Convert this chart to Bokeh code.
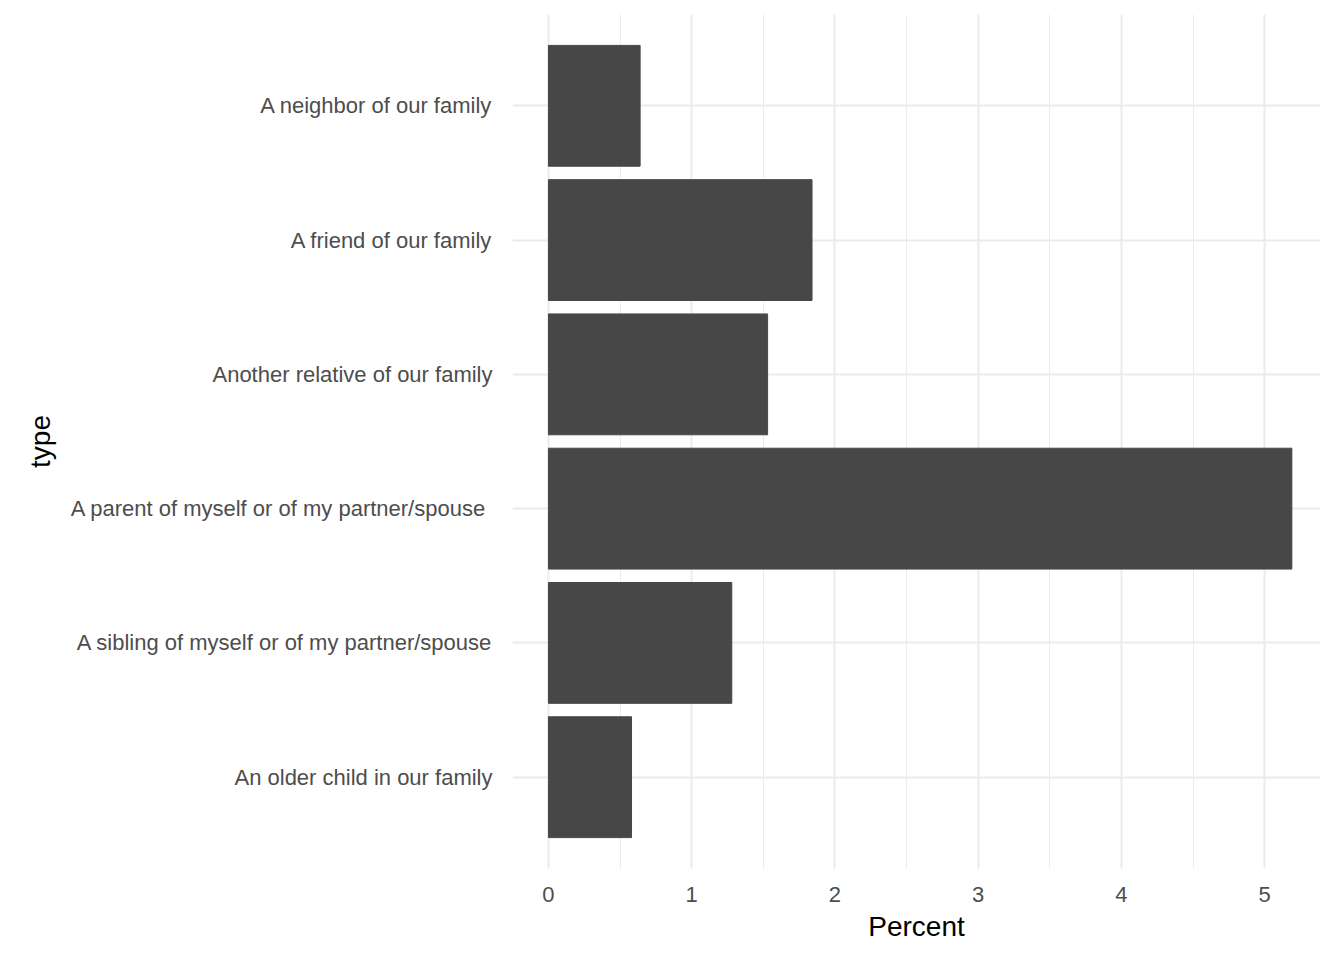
from bokeh.plotting import figure
from bokeh.models import FactorRange, SingleIntervalTicker
from bokeh.embed import file_html
from bokeh.resources import INLINE

types = ["An older child in our family",
         "A sibling of myself or of my partner/spouse",
         "A parent of myself or of my partner/spouse ",
         "Another relative of our family",
         "A friend of our family",
         "A neighbor of our family"]
percent = [0.58, 1.28, 5.19, 1.53, 1.84, 0.64]

p = figure(width=1328, height=944, output_backend="svg", toolbar_location=None,
           y_range=FactorRange(factors=types, range_padding=0.18, range_padding_units="absolute"),
           x_range=(-0.251, 5.39),
           min_border_left=512, min_border_right=8, min_border_top=14, min_border_bottom=72)
p.hbar(y=types, right=percent, left=0, height=0.9, color="#474747")

p.outline_line_color = None
for ax in (p.xaxis, p.yaxis):
    ax.axis_line_color = None
    ax.major_tick_line_color = None
    ax.minor_tick_line_color = None
    ax.major_label_text_color = "#4d4d4d"
    ax.major_label_text_font = "Liberation Sans"
    ax.major_label_text_font_size = "22px"
    ax.axis_label_text_font = "Liberation Sans"
    ax.axis_label_text_font_size = "28px"
    ax.axis_label_text_font_style = "normal"
    ax.axis_label_text_color = "black"
p.xaxis.ticker = SingleIntervalTicker(interval=1, num_minor_ticks=2)
p.xaxis.axis_label = "Percent"
p.yaxis.axis_label = "type"
p.xaxis.major_label_standoff = 12
p.yaxis.major_label_standoff = 14
p.xaxis.axis_label_standoff = 6
p.yaxis.axis_label_standoff = 12

p.xgrid.grid_line_color = "#ebebeb"
p.xgrid.grid_line_width = 2
p.xgrid.minor_grid_line_color = "#ebebeb"
p.xgrid.minor_grid_line_width = 1
p.ygrid.grid_line_color = "#ebebeb"
p.ygrid.grid_line_width = 2

open("out.html", "w").write(file_html(p, INLINE))
